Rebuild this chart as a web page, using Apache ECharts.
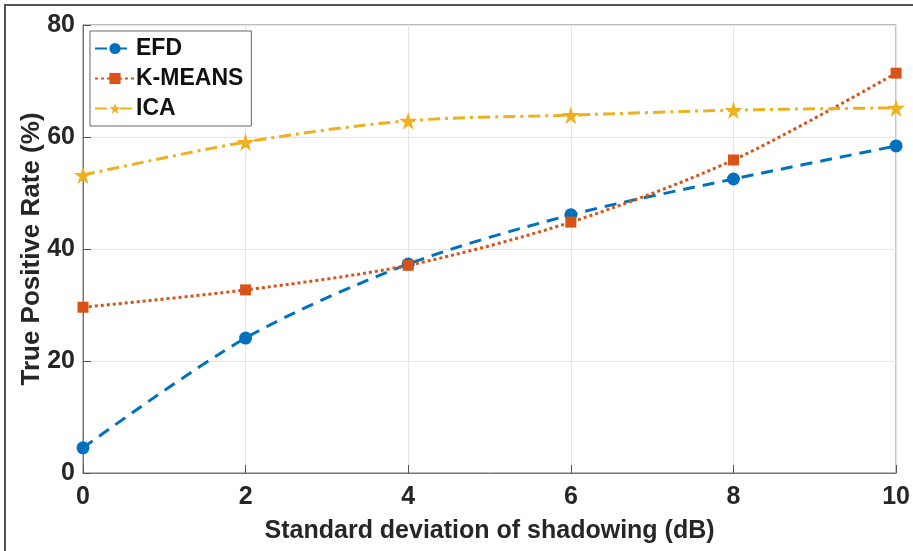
<!DOCTYPE html>
<html><head><meta charset="utf-8">
<script src="https://cdn.jsdelivr.net/npm/echarts@6/dist/echarts.min.js"></script>
<style>html,body{margin:0;padding:0;background:#fff}
#frame{position:absolute;left:4px;top:4px;width:930px;height:560px;border-top:2px solid #555;border-left:2px solid #555;pointer-events:none}
#c{width:913px;height:551px}</style>
</head><body>
<div id="c"></div><div id="frame"></div>
<script>
const xCats = [0, 2, 4, 6, 8, 10];
const efd = [4.5, 24.1, 37.3, 46.1, 52.5, 58.4];
const kmeans = [29.6, 32.7, 37.1, 44.8, 55.9, 71.4];
const ica = [53.2, 59.1, 62.9, 63.9, 64.8, 65.2];
const names = ['EFD', 'K-MEANS', 'ICA'];
const FONT = '"Liberation Sans Narrow", "Liberation Sans", Arial, sans-serif';
const pair = a => xCats.map((x, i) => [x, a[i]]);
const chart = echarts.init(document.getElementById('c'));
chart.setOption({
  animation: false,
  grid: {left: 83, right: 15, top: 25, bottom: 78, show: true, borderColor: '#777', borderWidth: 1},
  legend: {
    left: 90, top: 31, orient: 'vertical', itemGap: 7, itemWidth: 40, itemHeight: 14,
    borderColor: '#666', borderWidth: 1, padding: [6, 8, 6, 4], backgroundColor: '#fff',
    textStyle: {fontFamily: FONT, fontWeight: 'bold', fontSize: 23, color: '#111', padding: [0,0,0,-4]},
    data: names
  },
  xAxis: {
    type: 'value', min: 0, max: 10, interval: 2,
    axisLine: {show: true, lineStyle: {color: '#777'}},
    axisTick: {inside: true, length: 8, lineStyle: {color: '#555'}},
    splitLine: {show: true, lineStyle: {color: '#e6e6e6'}},
    axisLabel: {fontFamily: FONT, fontWeight: 'bold', fontSize: 25, color: '#262626', margin: 12},
    name: 'Standard deviation of shadowing (dB)', nameLocation: 'middle', nameGap: 46, nameMoveOverlap: false,
    nameTextStyle: {fontFamily: FONT, fontWeight: 'bold', fontSize: 25, color: '#262626'}
  },
  yAxis: {
    type: 'value', min: 0, max: 80, interval: 20,
    axisLine: {show: true, lineStyle: {color: '#777'}},
    axisTick: {show: true, inside: true, length: 8, lineStyle: {color: '#555'}},
    splitLine: {show: true, lineStyle: {color: '#e6e6e6'}},
    axisLabel: {fontFamily: FONT, fontWeight: 'bold', fontSize: 25, color: '#262626', margin: 8},
    name: 'True Positive Rate (%)', nameLocation: 'middle', nameGap: 38, nameMoveOverlap: false,
    nameTextStyle: {fontFamily: FONT, fontWeight: 'bold', fontSize: 26, color: '#262626'}
  },
  series: [
    {name: names[0], type: 'line', data: pair(efd), smooth: 0.3, symbol: 'circle', symbolSize: 13,
     itemStyle: {color: '#0072BD'}, lineStyle: {width: 3, type: [12, 8], color: '#0072BD'}},
    {name: names[1], type: 'line', data: pair(kmeans), smooth: 0.3, symbol: 'rect', symbolSize: 11,
     itemStyle: {color: '#D95319'}, lineStyle: {width: 3, type: [3, 3], color: '#D95319'}},
    {name: names[2], type: 'line', data: pair(ica), smooth: 0.3, symbol: 'path://M50,0 L61,35 L98,35 L68,57 L79,91 L50,70 L21,91 L32,57 L2,35 L39,35 Z', symbolSize: 18,
     itemStyle: {color: '#EDB120'}, lineStyle: {width: 3, type: [12, 5, 3, 5], color: '#EDB120'}}
  ]
});
</script>
</body></html>
